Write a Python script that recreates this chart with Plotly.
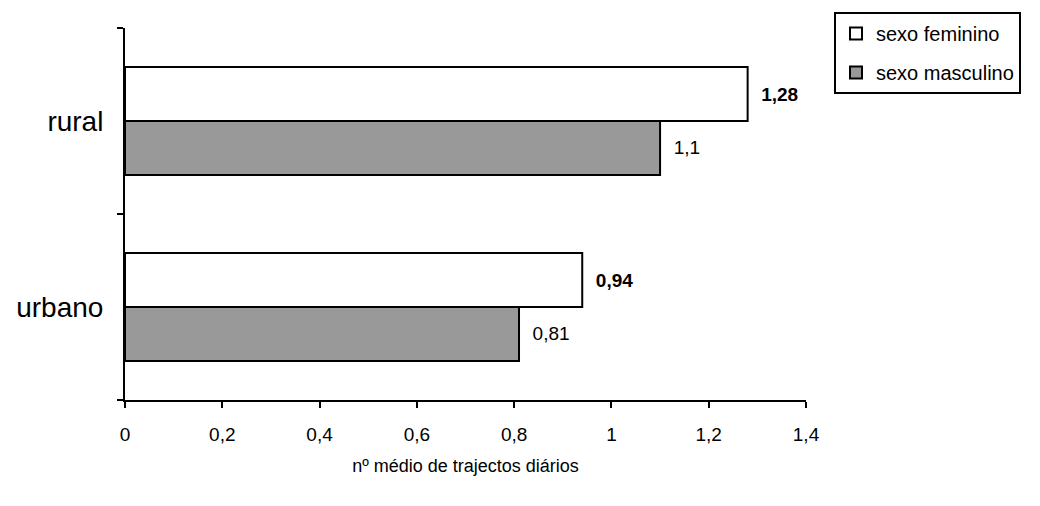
import plotly.graph_objects as go

categories = ["urbano", "rural"]
feminino = [0.94, 1.28]
masculino = [0.81, 1.1]
fem_labels = ["0,94", "1,28"]
masc_labels = ["0,81", "1,1"]
x_ticks = [0, 0.2, 0.4, 0.6, 0.8, 1, 1.2, 1.4]

PAD = "\u00a0\u00a0"

fig = go.Figure()
fig.add_trace(go.Bar(
    y=categories, x=masculino, orientation="h", name="sexo masculino",
    legendgroup="m", legendrank=2,
    marker=dict(color="#999999", line=dict(color="black", width=2)),
    text=[PAD + t for t in masc_labels], textposition="outside", cliponaxis=False,
    textfont=dict(family="Arial", size=19, color="black"),
))
fig.add_trace(go.Bar(
    y=categories, x=feminino, orientation="h", name="sexo feminino",
    legendgroup="f", legendrank=1,
    marker=dict(color="white", line=dict(color="black", width=2)),
    text=[PAD + "<b>" + t + "</b>" for t in fem_labels], textposition="outside", cliponaxis=False,
    textfont=dict(family="Arial", size=19, color="black"),
))

fig.update_layout(
    width=1040, height=506,
    paper_bgcolor="white", plot_bgcolor="white",
    margin=dict(l=125, r=234, t=28, b=106),
    barmode="group", bargap=0.42, bargroupgap=0,
    separators=", ",
    font=dict(family="Arial", color="black"),
    showlegend=True,
    legend=dict(
        x=(834 - 125) / 681, y=1.043, xanchor="left", yanchor="top",
        traceorder="grouped",
        bordercolor="black", borderwidth=2,
        font=dict(family="Arial", size=20, color="black"),
        itemwidth=30, tracegroupgap=10,
    ),
)
fig.update_xaxes(
    range=[0, 1.4], tickvals=x_ticks, ticktext=[str(v).replace(".", ",") for v in x_ticks],
    showgrid=False, zeroline=False, showline=True, linecolor="black", linewidth=2,
    ticks="outside", ticklen=6, tickwidth=2, tickcolor="black",
    tickfont=dict(family="Arial", size=19, color="black"),
    ticklabelstandoff=10,
    title=dict(text="nº médio de trajectos diários", font=dict(family="Arial", size=18, color="black"), standoff=16),
)
fig.update_yaxes(
    showgrid=False, zeroline=False, showline=True, linecolor="black", linewidth=2,
    ticks="outside", ticklen=6, tickwidth=2, tickcolor="black",
    tickson="boundaries",
    tickfont=dict(family="Arial", size=28, color="black"),
    ticklabelstandoff=14,
)

fig.write_html("out.html", config={"displayModeBar": False},
               post_script="document.body.style.margin='0';")
